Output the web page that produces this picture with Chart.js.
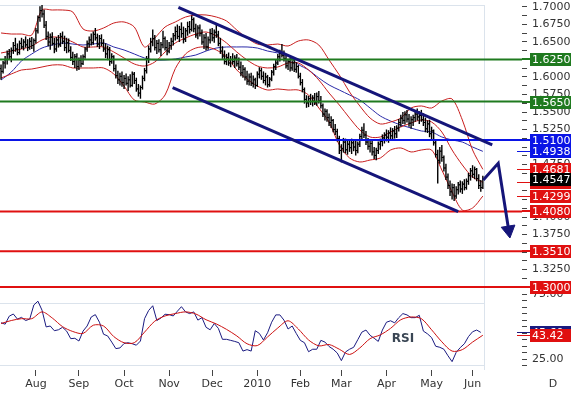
<!DOCTYPE html>
<html>
<head>
<meta charset="utf-8">
<script src="https://cdn.jsdelivr.net/npm/chart.js@4"></script>
<style>
  html, body { margin: 0; padding: 0; background: #fff; }
  #wrap { width: 571px; height: 397px; }
</style>
</head>
<body>
<div id="wrap"><canvas id="chart" width="571" height="397"></canvas></div>
<script>
/* ===============================
   GBP/USD daily – OHLC, Bollinger, MA, RSI
================================ */

// daily bars, Jul 2009 – Jun 2010
const opens = [
  1.6120,1.6080,1.6200,1.6250,1.6330,1.6290,1.6380,1.6450,1.6400,1.6350,
  1.6480,1.6430,1.6500,1.6460,1.6420,1.6510,1.6450,1.6520,1.6660,1.6850,
  1.6950,1.6900,1.6740,1.6580,1.6500,1.6570,1.6480,1.6400,1.6530,1.6460,
  1.6580,1.6510,1.6420,1.6490,1.6380,1.6280,1.6220,1.6290,1.6150,1.6240,
  1.6190,1.6290,1.6400,1.6480,1.6530,1.6490,1.6610,1.6560,1.6470,1.6550,
  1.6480,1.6400,1.6330,1.6390,1.6220,1.6290,1.6120,1.6020,1.5960,1.6010,
  1.5920,1.5980,1.5910,1.5960,1.5880,1.6040,1.5950,1.5830,1.5770,1.5850,
  1.5980,1.6090,1.6260,1.6400,1.6500,1.6550,1.6420,1.6480,1.6390,1.6460,
  1.6550,1.6420,1.6370,1.6450,1.6510,1.6590,1.6650,1.6580,1.6680,1.6620,
  1.6540,1.6660,1.6720,1.6680,1.6820,1.6690,1.6600,1.6700,1.6620,1.6500,
  1.6560,1.6430,1.6530,1.6620,1.6560,1.6640,1.6600,1.6480,1.6370,1.6300,
  1.6220,1.6280,1.6200,1.6250,1.6220,1.6270,1.6190,1.6140,1.6060,1.6110,
  1.6000,1.5940,1.6000,1.5910,1.5960,1.5880,1.6040,1.6090,1.6010,1.5950,
  1.6000,1.5890,1.5970,1.6070,1.6150,1.6200,1.6290,1.6340,1.6310,1.6260,
  1.6160,1.6220,1.6130,1.6200,1.6110,1.6150,1.6010,1.5920,1.5820,1.5680,
  1.5630,1.5690,1.5650,1.5700,1.5640,1.5720,1.5660,1.5590,1.5470,1.5510,
  1.5420,1.5350,1.5380,1.5250,1.5220,1.5120,1.4950,1.4980,1.5070,1.4960,
  1.5040,1.4990,1.5060,1.5000,1.4950,1.5040,1.5150,1.5240,1.5170,1.5070,
  1.5010,1.5050,1.4930,1.4880,1.4950,1.5040,1.5080,1.5130,1.5170,1.5140,
  1.5200,1.5160,1.5230,1.5190,1.5270,1.5350,1.5410,1.5380,1.5460,1.5400,
  1.5340,1.5390,1.5420,1.5470,1.5430,1.5450,1.5390,1.5350,1.5260,1.5330,
  1.5190,1.5230,1.5060,1.4890,1.4810,1.4940,1.4850,1.4700,1.4570,1.4450,
  1.4360,1.4420,1.4300,1.4390,1.4460,1.4400,1.4470,1.4420,1.4510,1.4590,
  1.4660,1.4610,1.4680,1.4550,1.4450,1.4420
];
const highs = [
  1.6180,1.6230,1.6300,1.6380,1.6400,1.6420,1.6500,1.6560,1.6480,1.6520,
  1.6560,1.6540,1.6580,1.6540,1.6560,1.6570,1.6550,1.6700,1.6880,1.7010,
  1.7040,1.6960,1.6800,1.6650,1.6620,1.6640,1.6560,1.6570,1.6600,1.6630,
  1.6650,1.6590,1.6560,1.6550,1.6440,1.6360,1.6330,1.6340,1.6280,1.6310,
  1.6320,1.6430,1.6520,1.6580,1.6620,1.6650,1.6700,1.6620,1.6600,1.6610,
  1.6540,1.6480,1.6450,1.6430,1.6340,1.6310,1.6180,1.6090,1.6060,1.6080,
  1.6030,1.6050,1.6010,1.6040,1.6080,1.6070,1.5990,1.5900,1.5880,1.6020,
  1.6130,1.6300,1.6450,1.6560,1.6680,1.6600,1.6530,1.6540,1.6500,1.6660,
  1.6580,1.6530,1.6500,1.6560,1.6630,1.6720,1.6750,1.6730,1.6780,1.6720,
  1.6700,1.6790,1.6800,1.6880,1.6850,1.6760,1.6740,1.6750,1.6680,1.6610,
  1.6630,1.6580,1.6690,1.6700,1.6680,1.6750,1.6660,1.6560,1.6440,1.6380,
  1.6330,1.6350,1.6300,1.6340,1.6310,1.6330,1.6280,1.6220,1.6170,1.6140,
  1.6090,1.6050,1.6060,1.6020,1.5990,1.6080,1.6140,1.6130,1.6080,1.6060,
  1.6030,1.6000,1.6100,1.6190,1.6250,1.6330,1.6390,1.6470,1.6380,1.6310,
  1.6260,1.6270,1.6240,1.6250,1.6210,1.6170,1.6060,1.5970,1.5850,1.5740,
  1.5730,1.5760,1.5740,1.5770,1.5780,1.5800,1.5730,1.5620,1.5550,1.5540,
  1.5480,1.5440,1.5400,1.5330,1.5260,1.5160,1.5040,1.5130,1.5120,1.5090,
  1.5100,1.5120,1.5110,1.5100,1.5080,1.5190,1.5290,1.5340,1.5230,1.5130,
  1.5100,1.5090,1.5000,1.4990,1.5080,1.5120,1.5180,1.5210,1.5250,1.5240,
  1.5280,1.5270,1.5300,1.5310,1.5400,1.5460,1.5500,1.5510,1.5530,1.5470,
  1.5440,1.5460,1.5520,1.5550,1.5510,1.5530,1.5480,1.5420,1.5380,1.5390,
  1.5290,1.5250,1.5090,1.4960,1.5000,1.5030,1.4880,1.4760,1.4620,1.4520,
  1.4480,1.4470,1.4440,1.4500,1.4520,1.4510,1.4540,1.4550,1.4630,1.4700,
  1.4740,1.4720,1.4700,1.4610,1.4530,1.4590
];
const lows = [
  1.5960,1.6050,1.6120,1.6180,1.6250,1.6210,1.6330,1.6360,1.6310,1.6320,
  1.6400,1.6380,1.6420,1.6370,1.6390,1.6400,1.6360,1.6480,1.6620,1.6790,
  1.6850,1.6700,1.6530,1.6440,1.6390,1.6450,1.6340,1.6360,1.6420,1.6430,
  1.6470,1.6370,1.6340,1.6350,1.6230,1.6170,1.6130,1.6090,1.6100,1.6140,
  1.6170,1.6260,1.6360,1.6420,1.6450,1.6460,1.6520,1.6430,1.6400,1.6440,
  1.6360,1.6270,1.6240,1.6160,1.6190,1.6080,1.5980,1.5900,1.5880,1.5860,
  1.5830,1.5880,1.5800,1.5850,1.5860,1.5900,1.5790,1.5720,1.5690,1.5820,
  1.5940,1.6050,1.6200,1.6350,1.6440,1.6380,1.6330,1.6350,1.6300,1.6410,
  1.6380,1.6310,1.6340,1.6390,1.6450,1.6520,1.6540,1.6500,1.6560,1.6480,
  1.6500,1.6590,1.6620,1.6650,1.6640,1.6560,1.6540,1.6580,1.6460,1.6400,
  1.6380,1.6390,1.6480,1.6510,1.6490,1.6560,1.6440,1.6330,1.6260,1.6180,
  1.6170,1.6160,1.6140,1.6180,1.6130,1.6150,1.6100,1.6010,1.5990,1.5950,
  1.5890,1.5880,1.5870,1.5850,1.5830,1.5860,1.5980,1.5960,1.5910,1.5880,
  1.5850,1.5860,1.5940,1.6020,1.6100,1.6170,1.6220,1.6280,1.6220,1.6120,
  1.6100,1.6080,1.6090,1.6070,1.6060,1.5980,1.5880,1.5780,1.5620,1.5560,
  1.5570,1.5600,1.5580,1.5600,1.5590,1.5620,1.5550,1.5430,1.5380,1.5360,
  1.5300,1.5270,1.5210,1.5170,1.5080,1.4900,1.4780,1.4920,1.4910,1.4890,
  1.4930,1.4900,1.4940,1.4880,1.4910,1.5000,1.5100,1.5130,1.5030,1.4960,
  1.4920,1.4880,1.4830,1.4810,1.4900,1.4960,1.5010,1.5050,1.5080,1.5060,
  1.5100,1.5090,1.5120,1.5130,1.5220,1.5290,1.5330,1.5320,1.5350,1.5290,
  1.5260,1.5300,1.5360,1.5380,1.5330,1.5360,1.5300,1.5210,1.5200,1.5140,
  1.5100,1.5020,1.4850,1.4480,1.4760,1.4790,1.4650,1.4530,1.4400,1.4300,
  1.4250,1.4230,1.4260,1.4320,1.4350,1.4330,1.4380,1.4390,1.4460,1.4520,
  1.4560,1.4540,1.4510,1.4400,1.4360,1.4400
];
const closes = [
  1.6080,1.6200,1.6250,1.6330,1.6290,1.6380,1.6450,1.6400,1.6350,1.6480,
  1.6430,1.6500,1.6460,1.6420,1.6510,1.6450,1.6520,1.6660,1.6850,1.6950,
  1.6900,1.6740,1.6580,1.6500,1.6570,1.6480,1.6400,1.6530,1.6460,1.6580,
  1.6510,1.6420,1.6490,1.6380,1.6280,1.6220,1.6290,1.6150,1.6240,1.6190,
  1.6290,1.6400,1.6480,1.6530,1.6490,1.6610,1.6560,1.6470,1.6550,1.6480,
  1.6400,1.6330,1.6390,1.6220,1.6290,1.6120,1.6020,1.5960,1.6010,1.5920,
  1.5980,1.5910,1.5960,1.5880,1.6040,1.5950,1.5830,1.5770,1.5850,1.5980,
  1.6090,1.6260,1.6400,1.6500,1.6550,1.6420,1.6480,1.6390,1.6460,1.6550,
  1.6420,1.6370,1.6450,1.6510,1.6590,1.6650,1.6580,1.6680,1.6620,1.6540,
  1.6660,1.6720,1.6680,1.6820,1.6690,1.6600,1.6700,1.6620,1.6500,1.6560,
  1.6430,1.6530,1.6620,1.6560,1.6640,1.6600,1.6480,1.6370,1.6300,1.6220,
  1.6280,1.6200,1.6250,1.6220,1.6270,1.6190,1.6140,1.6060,1.6110,1.6000,
  1.5940,1.6000,1.5910,1.5960,1.5880,1.6040,1.6090,1.6010,1.5950,1.6000,
  1.5890,1.5970,1.6070,1.6150,1.6200,1.6290,1.6340,1.6310,1.6260,1.6160,
  1.6220,1.6130,1.6200,1.6110,1.6150,1.6010,1.5920,1.5820,1.5680,1.5630,
  1.5690,1.5650,1.5700,1.5640,1.5720,1.5660,1.5590,1.5470,1.5510,1.5420,
  1.5350,1.5380,1.5250,1.5220,1.5120,1.4950,1.4980,1.5070,1.4960,1.5040,
  1.4990,1.5060,1.5000,1.4950,1.5040,1.5150,1.5240,1.5170,1.5070,1.5010,
  1.5050,1.4930,1.4880,1.4950,1.5040,1.5080,1.5130,1.5170,1.5140,1.5200,
  1.5160,1.5230,1.5190,1.5270,1.5350,1.5410,1.5380,1.5460,1.5400,1.5340,
  1.5390,1.5420,1.5470,1.5430,1.5450,1.5390,1.5350,1.5260,1.5330,1.5190,
  1.5230,1.5060,1.4890,1.4810,1.4940,1.4850,1.4700,1.4570,1.4450,1.4360,
  1.4420,1.4300,1.4390,1.4460,1.4400,1.4470,1.4420,1.4510,1.4590,1.4660,
  1.4610,1.4680,1.4550,1.4450,1.4420,1.4547
];

// indicators, one reading every 5 bars
const bandStep = 5;
const bbUpper = [
  1.6629,1.6614,1.6614,1.6600,1.6957,1.6957,1.6957,1.6929,1.6686,1.6657,
  1.6700,1.6771,1.6786,1.6714,1.6429,1.6557,1.6714,1.6786,1.6857,1.6886,
  1.6886,1.6857,1.6800,1.6671,1.6557,1.6471,1.6457,1.6471,1.6443,1.6514,
  1.6529,1.6457,1.6243,1.6029,1.5786,1.5586,1.5414,1.5329,1.5357,1.5414,
  1.5557,1.5586,1.5557,1.5657,1.5686,1.5386,1.4957,1.4681
];
const bbMiddle = [
  1.6343,1.6371,1.6400,1.6443,1.6529,1.6571,1.6557,1.6500,1.6429,1.6429,
  1.6429,1.6357,1.6271,1.6186,1.6157,1.6214,1.6357,1.6486,1.6557,1.6614,
  1.6643,1.6586,1.6486,1.6357,1.6243,1.6157,1.6129,1.6143,1.6200,1.6200,
  1.6100,1.5957,1.5771,1.5600,1.5414,1.5243,1.5143,1.5143,1.5214,1.5286,
  1.5343,1.5386,1.5357,1.5214,1.4957,1.4743,1.4571,1.4495
];
const bbLower = [
  1.5986,1.6043,1.6100,1.6114,1.6143,1.6171,1.6171,1.6129,1.6129,1.6129,
  1.6129,1.6043,1.5871,1.5671,1.5643,1.5614,1.5743,1.6120,1.6329,1.6414,
  1.6429,1.6386,1.6286,1.6100,1.5971,1.5871,1.5814,1.5829,1.5814,1.5814,
  1.5743,1.5557,1.5357,1.5029,1.4843,1.4786,1.4814,1.4843,1.4957,1.4986,
  1.4929,1.4957,1.4957,1.4671,1.4357,1.4100,1.4129,1.4299
];
const maValues = [
  1.5957,1.6071,1.6229,1.6329,1.6414,1.6457,1.6486,1.6471,1.6457,1.6471,
  1.6486,1.6429,1.6386,1.6329,1.6271,1.6243,1.6243,1.6257,1.6286,1.6314,
  1.6371,1.6414,1.6429,1.6429,1.6429,1.6414,1.6371,1.6343,1.6300,1.6180,
  1.6100,1.5986,1.5886,1.5814,1.5743,1.5671,1.5557,1.5443,1.5371,1.5314,
  1.5271,1.5229,1.5214,1.5143,1.5100,1.5071,1.5000,1.4938
];

// RSI every 2 bars, its signal line every 5 bars
const rsiStep = 2;
const rsiValues = [
  53.0,51.9,58.0,59.7,55.8,57.1,54.7,55.8,66.6,69.5,
  62.6,49.8,50.5,46.9,47.6,49.5,46.6,40.8,41.1,39.0,
  46.6,50.5,57.4,59.2,53.4,44.2,42.9,38.2,33.2,33.7,
  37.1,37.7,36.9,35.8,39.0,56.1,62.4,66.0,54.7,56.6,
  59.5,59.2,58.2,61.8,65.3,61.3,60.0,61.3,55.0,56.9,
  49.5,47.6,52.4,48.7,40.3,40.3,39.5,38.7,37.7,31.3,
  32.4,31.3,46.9,44.8,39.8,45.3,53.4,59.0,59.0,55.0,
  48.2,50.5,44.8,39.5,37.7,30.8,32.7,32.7,39.5,38.2,
  34.8,32.7,29.8,24.0,30.6,32.7,34.2,40.0,45.8,47.4,
  43.4,41.1,38.7,47.4,53.4,54.5,52.9,56.9,60.0,59.0,
  56.9,56.9,58.7,46.6,44.5,41.6,35.0,34.2,32.7,27.7,
  23.2,30.3,34.0,36.9,42.4,46.1,47.4,45.6
];
const rsiSignal = [
  52.4,54.7,56.1,56.1,61.3,56.6,50.0,46.3,44.8,51.1,
  50.5,42.4,37.7,37.7,45.8,54.2,58.2,60.0,61.3,59.7,
  55.3,52.1,47.9,42.9,36.9,35.5,42.1,49.0,54.5,48.2,
  39.8,35.3,36.3,32.7,28.7,33.7,40.8,43.7,48.7,55.3,
  57.4,56.1,47.6,38.4,31.3,32.4,38.2,43.42
];
const rsiGuides = [68.3, 20.6];

// support / resistance levels
const greenLevels = [1.6250, 1.5650];
const blueLevels = [1.5100];
const redLevels = [1.4080, 1.3510, 1.3000];

// trend channel and projection arrow (bar index, price)
const channelUpperIdx = [86.5, 239.6];
const channelUpperPx = [1.6996, 1.5029];
const channelLowerIdx = [83.7, 223.0];
const channelLowerPx = [1.5847, 1.4076];
const arrowIdx = [235.2, 242.5, 247.6];
const arrowPx = [1.4529, 1.4767, 1.3813];

// axes
const monthLabels = ['Aug', 'Sep', 'Oct', 'Nov', 'Dec', '2010', 'Feb', 'Mar', 'Apr', 'May', 'Jun'];
const monthIdx = [17, 38, 60, 82, 103, 125, 146, 166, 188, 210, 230];
const priceMajor = [1.3000, 1.3250, 1.3500, 1.3750, 1.4000, 1.4250, 1.4500, 1.4750, 1.5000,
                    1.5250, 1.5500, 1.5750, 1.6000, 1.6250, 1.6500, 1.6750, 1.7000];
const priceMinor = [1.3125, 1.3375, 1.3625, 1.3875, 1.4125, 1.4375, 1.4625, 1.4875,
                    1.5125, 1.5375, 1.5625, 1.5875, 1.6125, 1.6375, 1.6625, 1.6875];
const rsiTicks = [20, 25, 30, 35, 40, 45, 50, 55, 60, 65, 70, 75];
const rsiLabelled = [25, 75];

/* ── colours ── */
const GREEN = '#1f7a1f';
const BLUE = '#0a14e6';
const RED = '#e01010';
const NAVY = '#151579';
const BAND = '#c81e1e';
const AXIS_TXT = '#333';
const FONT = { family: "'DejaVu Sans', sans-serif", size: 11 };

const nowIdx = closes.length;
const xMin = -0.5, xMax = 254.1;

// no overflow padding: the panel edges are fixed
const noPad = s => {
    s.paddingTop = 0;
    s.paddingBottom = 0;
    s.paddingLeft = 0;
    s.paddingRight = 0;
};

const levelSet = (levels, color) => levels.map(v => ({
    type: 'line',
    data: [{ x: xMin, y: v }, { x: xMax, y: v }],
    borderColor: color,
    borderWidth: 2,
    pointRadius: 0,
    order: 1
}));

const bandLine = (values, color) => ({
    type: 'line',
    data: values.map((v, k) => ({ x: k * bandStep, y: v })),
    borderColor: color,
    borderWidth: 1,
    pointRadius: 0,
    tension: 0.3,
    order: 4
});

const datasets = [
    // high-low stems
    {
        type: 'bar',
        data: highs.map((h, i) => ({ x: i, y: [lows[i], h] })),
        backgroundColor: '#000',
        barThickness: 1.4,
        inflateAmount: 0,
        order: 3
    },
    // open ticks
    {
        type: 'scatter',
        data: opens.map((v, i) => ({ x: i - 0.35, y: v })),
        pointStyle: 'line', pointRadius: 0.75, borderColor: '#000', borderWidth: 1,
        order: 3
    },
    // close ticks
    {
        type: 'scatter',
        data: closes.map((v, i) => ({ x: i + 0.35, y: v })),
        pointStyle: 'line', pointRadius: 0.75, borderColor: '#000', borderWidth: 1,
        order: 3
    },
    bandLine(bbUpper, BAND),
    bandLine(bbMiddle, BAND),
    bandLine(bbLower, BAND),
    bandLine(maValues, '#2a2aa8'),
    ...levelSet(greenLevels, GREEN),
    ...levelSet(blueLevels, BLUE),
    ...levelSet(redLevels, RED),
    {
        type: 'line',
        data: channelUpperIdx.map((x, k) => ({ x, y: channelUpperPx[k] })),
        borderColor: NAVY, borderWidth: 3, pointRadius: 0, order: 0
    },
    {
        type: 'line',
        data: channelLowerIdx.map((x, k) => ({ x, y: channelLowerPx[k] })),
        borderColor: NAVY, borderWidth: 3, pointRadius: 0, order: 0
    },
    {
        type: 'line',
        data: arrowIdx.map((x, k) => ({ x, y: arrowPx[k] })),
        borderColor: NAVY, borderWidth: 3,
        pointRadius: [0, 0, 8],
        pointStyle: 'triangle',
        rotation: [0, 0, 171],
        pointBackgroundColor: NAVY,
        pointBorderColor: NAVY,
        pointBorderWidth: 1,
        order: 0
    },
    // RSI panel
    {
        type: 'line',
        yAxisID: 'rsi',
        data: rsiValues.map((v, k) => ({ x: k * rsiStep, y: v })),
        borderColor: '#1a1a80', borderWidth: 1, pointRadius: 0, order: 2
    },
    {
        type: 'line',
        yAxisID: 'rsi',
        data: rsiSignal.map((v, k) => ({ x: k * bandStep, y: v })),
        borderColor: '#cc1111', borderWidth: 1, pointRadius: 0, tension: 0.3, order: 1
    }
];

/* ── panel frame, value tags, captions ── */
const panelDecor = {
    id: 'panelDecor',
    beforeDatasetsDraw(chart) {
        const { ctx, chartArea, scales } = chart;
        const nowX = scales.x.getPixelForValue(nowIdx);
        ctx.save();
        ctx.strokeStyle = '#dbe3ec';
        ctx.lineWidth = 1;
        ctx.beginPath();
        ctx.moveTo(chartArea.left, chartArea.top + 0.5);
        ctx.lineTo(nowX, chartArea.top + 0.5);
        rsiGuides.forEach(v => {
            const y = Math.round(scales.rsi.getPixelForValue(v)) + 0.5;
            ctx.moveTo(chartArea.left, y);
            ctx.lineTo(nowX, y);
        });
        ctx.stroke();
        ctx.restore();
    },
    afterDraw(chart) {
        const { ctx, chartArea, scales } = chart;
        const boxX = chartArea.right + 8;
        const boxW = chart.width - boxX;
        const py = v => Math.round(scales.y.getPixelForValue(v));
        const ry = v => Math.round(scales.rsi.getPixelForValue(v));

        ctx.save();
        ctx.font = "11px 'DejaVu Sans', sans-serif";
        ctx.textBaseline = 'middle';
        ctx.textAlign = 'left';

        const tag = (y, text, bg, stubFrom, stubW) => {
            if (stubFrom !== null) {
                const off = stubW % 2 ? 0.5 : 0;
                ctx.strokeStyle = bg;
                ctx.lineWidth = stubW;
                ctx.beginPath();
                ctx.moveTo(stubFrom, y + off);
                ctx.lineTo(boxX, y + off);
                ctx.stroke();
            }
            ctx.fillStyle = bg;
            ctx.fillRect(boxX, y - 6, boxW, 13);
            ctx.fillStyle = '#fff';
            ctx.fillText(text, boxX + 2, y + 1);
        };

        const stubX = chartArea.right - 5;
        tag(py(maValues.at(-1)), maValues.at(-1).toFixed(4), BLUE, stubX, 1);
        tag(py(bbUpper.at(-1)), bbUpper.at(-1).toFixed(4), RED, stubX, 1);
        tag(py(bbMiddle.at(-1)), bbMiddle.at(-1).toFixed(4), RED, stubX, 1);
        tag(py(bbLower.at(-1)), bbLower.at(-1).toFixed(4), RED, stubX, 1);
        greenLevels.forEach(v => tag(py(v), v.toFixed(4), GREEN, chartArea.right, 2));
        blueLevels.forEach(v => tag(py(v), v.toFixed(4), BLUE, chartArea.right, 2));
        redLevels.forEach(v => tag(py(v), v.toFixed(4), RED, chartArea.right, 2));
        tag(py(closes.at(-1)), closes.at(-1).toFixed(4), '#000', null, 0);
        tag(ry(rsiValues.at(-1)), rsiValues.at(-1).toFixed(2), '#1a1a80', stubX, 1);
        tag(ry(rsiSignal.at(-1)), rsiSignal.at(-1).toFixed(2), RED, stubX, 1);

        // captions
        ctx.fillStyle = AXIS_TXT;
        ctx.textAlign = 'center';
        ctx.fillText('D', 553, 384);
        ctx.font = "bold 12px 'DejaVu Sans', sans-serif";
        ctx.fillStyle = '#3a4654';
        ctx.fillText('RSI', 403, 339);
        ctx.restore();
    }
};

new Chart(document.getElementById('chart'), {
    type: 'line',
    data: { datasets },
    plugins: [panelDecor],
    options: {
        responsive: false,
        animation: false,
        events: [],
        devicePixelRatio: 1,
        layout: { autoPadding: false, padding: { top: 5, left: 0, right: 0, bottom: 0 } },
        elements: { point: { radius: 0 } },
        plugins: { legend: { display: false }, tooltip: { enabled: false } },
        scales: {
            x: {
                type: 'linear',
                min: xMin,
                max: xMax,
                offset: false,
                afterBuildTicks: s => {
                    s.ticks = monthIdx.concat([nowIdx]).map(v => ({ value: v }));
                },
                afterFit: s => { s.height = 27; noPad(s); },
                ticks: {
                    autoSkip: false,
                    maxRotation: 0,
                    padding: 2,
                    font: FONT,
                    color: AXIS_TXT,
                    callback: (v, i) => (i < monthLabels.length ? monthLabels[i] : '')
                },
                grid: {
                    offset: false,
                    drawOnChartArea: true,
                    color: c => (c.tick && c.tick.value === nowIdx ? '#dbe3ec' : 'rgba(0,0,0,0)'),
                    tickColor: c => (c.tick && c.tick.value === nowIdx ? 'rgba(0,0,0,0)' : '#444'),
                    tickLength: 6
                },
                border: { display: false }
            },
            y: {
                type: 'linear',
                position: 'right',
                stack: 'panels',
                stackWeight: 286,
                min: 1.294286,
                max: 1.702857,
                afterBuildTicks: s => {
                    s.ticks = priceMajor.concat(priceMinor).sort((a, b) => a - b).map(v => ({ value: v }));
                },
                afterFit: s => { s.width = 49; noPad(s); },
                ticks: {
                    autoSkip: false,
                    padding: 5,
                    font: FONT,
                    color: AXIS_TXT,
                    callback: v => (priceMajor.includes(v) ? v.toFixed(4) : '')
                },
                grid: { drawOnChartArea: false, tickLength: 5, tickColor: '#444' },
                border: { display: false }
            },
            rsi: {
                type: 'linear',
                position: 'right',
                stack: 'panels',
                stackWeight: 79,
                min: 16.81,
                max: 77.30,
                afterBuildTicks: s => {
                    s.ticks = rsiTicks.map(v => ({ value: v }));
                },
                afterFit: s => { s.width = 49; noPad(s); },
                ticks: {
                    autoSkip: false,
                    padding: 5,
                    font: FONT,
                    color: AXIS_TXT,
                    callback: v => (rsiLabelled.includes(v) ? v.toFixed(2) : '')
                },
                grid: { drawOnChartArea: false, tickLength: 5, tickColor: '#444' },
                border: { display: false }
            }
        }
    }
});
</script>
</body>
</html>
